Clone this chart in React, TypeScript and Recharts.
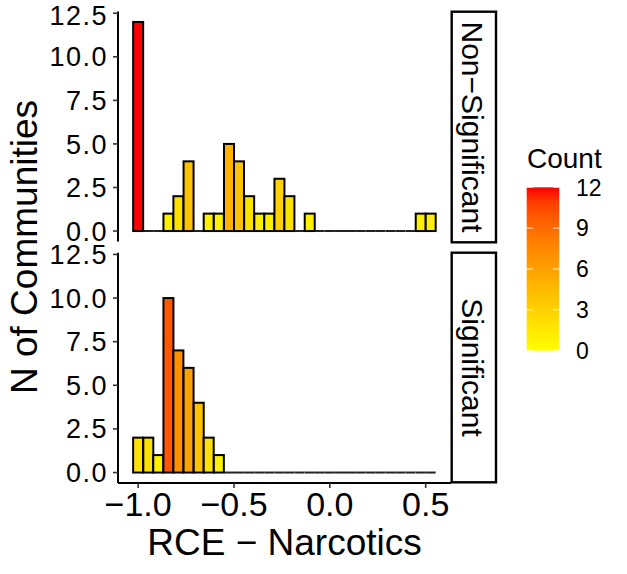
import React from "react";
import { BarChart, Bar, XAxis, YAxis, Cell } from "recharts";

// histogram bins (centres) shared by both facets
const binCenters = [
  -1.0, -0.947, -0.895, -0.842, -0.79, -0.737, -0.684, -0.632, -0.579, -0.526,
  -0.474, -0.421, -0.368, -0.316, -0.263, -0.211, -0.158, -0.105, -0.053, 0.0,
  0.053, 0.105, 0.158, 0.211, 0.263, 0.316, 0.368, 0.421, 0.474, 0.526,
];
const nonSignificantCounts = [
  12, 0, 0, 1, 2, 4, 0, 1, 1, 5, 4, 2, 1, 1, 3, 2, 0, 1, 0, 0, 0, 0, 0, 0, 0, 0, 0, 0, 1, 1,
];
const significantCounts = [
  2, 2, 1, 10, 7, 6, 4, 2, 1, 0, 0, 0, 0, 0, 0, 0, 0, 0, 0, 0, 0, 0, 0, 0, 0, 0, 0, 0, 0, 0,
];
const facetLabels = ["Non\u2212Significant", "Significant"];
const yTicks = [0, 2.5, 5, 7.5, 10, 12.5];
const xTicks = [-1, -0.5, 0, 0.5];
const legendTicks = [0, 3, 6, 9, 12];
const countMax = 12;

const FONT = "'Liberation Sans', Arial, Helvetica, sans-serif";

// --- ggplot-style yellow -> red gradient, interpolated in CIELAB
const toLin = (c: number) => (c <= 0.04045 ? c / 12.92 : Math.pow((c + 0.055) / 1.055, 2.4));
const fromLin = (c: number) => (c <= 0.0031308 ? 12.92 * c : 1.055 * Math.pow(c, 1 / 2.4) - 0.055);
const fLab = (t: number) => (t > 0.008856 ? Math.cbrt(t) : 7.787 * t + 16 / 116);
const fInv = (t: number) => (t * t * t > 0.008856 ? t * t * t : (t - 16 / 116) / 7.787);

function rgbToLab([r, g, b]: number[]) {
  const R = toLin(r / 255), G = toLin(g / 255), B = toLin(b / 255);
  const X = (0.4124 * R + 0.3576 * G + 0.1805 * B) / 0.95047;
  const Y = 0.2126 * R + 0.7152 * G + 0.0722 * B;
  const Z = (0.0193 * R + 0.1192 * G + 0.9505 * B) / 1.08883;
  const fx = fLab(X), fy = fLab(Y), fz = fLab(Z);
  return [116 * fy - 16, 500 * (fx - fy), 200 * (fy - fz)];
}

function labToHex([L, a, b]: number[]) {
  const fy = (L + 16) / 116;
  const X = fInv(fy + a / 500) * 0.95047;
  const Y = fInv(fy);
  const Z = fInv(fy - b / 200) * 1.08883;
  const r = 3.2406 * X - 1.5372 * Y - 0.4986 * Z;
  const g = -0.9689 * X + 1.8758 * Y + 0.0415 * Z;
  const bl = 0.0557 * X - 0.204 * Y + 1.057 * Z;
  const hex = (v: number) =>
    Math.round(Math.min(1, Math.max(0, fromLin(v))) * 255)
      .toString(16)
      .padStart(2, "0");
  return "#" + hex(r) + hex(g) + hex(bl);
}

const LOW = rgbToLab([255, 255, 0]);
const HIGH = rgbToLab([255, 0, 0]);
const countColor = (v: number) => {
  const t = v / countMax;
  return labToHex(LOW.map((l, i) => l + (HIGH[i] - l) * t));
};

const fmtY = (v: number) => v.toFixed(1);
const fmtX = (v: number) => (v < 0 ? "\u2212" : "") + Math.abs(v).toFixed(1);

// bar outline; empty bins become a flat line on the baseline
const BinShape = (props: any) => {
  const { x, y, width, height, fill } = props;
  if (!height) {
    return <line x1={x} x2={x + width} y1={y} y2={y} stroke="#222" strokeWidth={2} />;
  }
  return <rect x={x} y={y} width={width} height={height} fill={fill} stroke="#000" strokeWidth={2} />;
};

const xDomain = [-1.105, 0.632];
const yDomain = [-0.6, 12.6];

function Panel({ counts, top, height, bottom, showX }: any) {
  const data = binCenters.map((x, i) => ({ x, count: counts[i] }));
  return (
    <div style={{ position: "absolute", left: 0, top: 0 }}>
      <BarChart
        width={627}
        height={height}
        data={data}
        barCategoryGap={0}
        margin={{ top, right: 176, bottom, left: 0 }}
      >
        <XAxis
          dataKey="x"
          type="number"
          domain={xDomain}
          ticks={xTicks}
          allowDataOverflow
          hide={!showX}
          height={40}
          tickFormatter={fmtX}
          tickSize={5}
          tickMargin={4}
          axisLine={{ stroke: "#000", strokeWidth: 2 }}
          tickLine={{ stroke: "#333", strokeWidth: 1.6 }}
          tick={{ fontSize: 34, fill: "#000", fontFamily: FONT }}
        />
        <YAxis
          type="number"
          domain={yDomain}
          ticks={yTicks}
          allowDataOverflow
          width={118}
          tickFormatter={fmtY}
          tickSize={5}
          tickMargin={5}
          axisLine={{ stroke: "#000", strokeWidth: 2 }}
          tickLine={{ stroke: "#333", strokeWidth: 1.6 }}
          tick={{ fontSize: 27, fill: "#000", fontFamily: FONT, letterSpacing: 1.5 }}
        />
        <Bar dataKey="count" isAnimationActive={false} shape={BinShape}>
          {data.map((d, i) => (
            <Cell key={i} fill={countColor(d.count)} />
          ))}
        </Bar>
      </BarChart>
    </div>
  );
}

export default function App() {
  const legTop = 187.3;
  const legBottom = 350.7;
  const legY = (v: number) => legBottom - (v / countMax) * (legBottom - legTop);
  const stops = [0, 0.1, 0.2, 0.3, 0.4, 0.5, 0.6, 0.7, 0.8, 0.9, 1];
  return (
    <div style={{ position: "absolute", left: 0, top: 0, width: 627, height: 574, background: "#fff", fontFamily: FONT }}>
      <Panel counts={nonSignificantCounts} top={11.5} height={250} bottom={8.5} showX={false} />
      <Panel counts={significantCounts} top={252.7} height={574} bottom={51} showX={true} />
      <svg
        width={627}
        height={574}
        style={{ position: "absolute", left: 0, top: 0, pointerEvents: "none" }}
        fontFamily={FONT}
      >
        <defs>
          <linearGradient id="countGrad" x1="0" y1="1" x2="0" y2="0">
            {stops.map((s) => (
              <stop key={s} offset={s} stopColor={countColor(s * countMax)} />
            ))}
          </linearGradient>
        </defs>
        {/* facet strips */}
        <rect x={451.7} y={11.7} width={44.3} height={230.6} fill="#fff" stroke="#000" strokeWidth={2.4} />
        <rect x={451.7} y={252.7} width={44.3} height={229.6} fill="#fff" stroke="#000" strokeWidth={2.4} />
        <text transform="translate(462,127) rotate(90)" textAnchor="middle" fontSize={30} fill="#000">
          {facetLabels[0]}
        </text>
        <text transform="translate(462,367.5) rotate(90)" textAnchor="middle" fontSize={30} fill="#000">
          {facetLabels[1]}
        </text>
        {/* axis titles */}
        <text x={284.5} y={555} textAnchor="middle" fontSize={37} fill="#000">
          RCE {"\u2212"} Narcotics
        </text>
        <text transform="translate(37,247) rotate(-90)" textAnchor="middle" fontSize={37} fill="#000">
          N of Communities
        </text>
        {/* colour bar legend */}
        <text x={527} y={168} fontSize={28} fill="#000">
          Count
        </text>
        <rect x={526.7} y={legTop} width={32.6} height={legBottom - legTop} fill="url(#countGrad)" />
        {legendTicks.map((v) => (
          <g key={v}>
            <line x1={526.7} x2={533} y1={legY(v)} y2={legY(v)} stroke="#fff" strokeWidth={1} opacity={0.8} />
            <line x1={553} x2={559.3} y1={legY(v)} y2={legY(v)} stroke="#fff" strokeWidth={1} opacity={0.8} />
            <text x={576} y={legY(v)} dy="0.36em" fontSize={23} fill="#000">
              {v}
            </text>
          </g>
        ))}
      </svg>
    </div>
  );
}
